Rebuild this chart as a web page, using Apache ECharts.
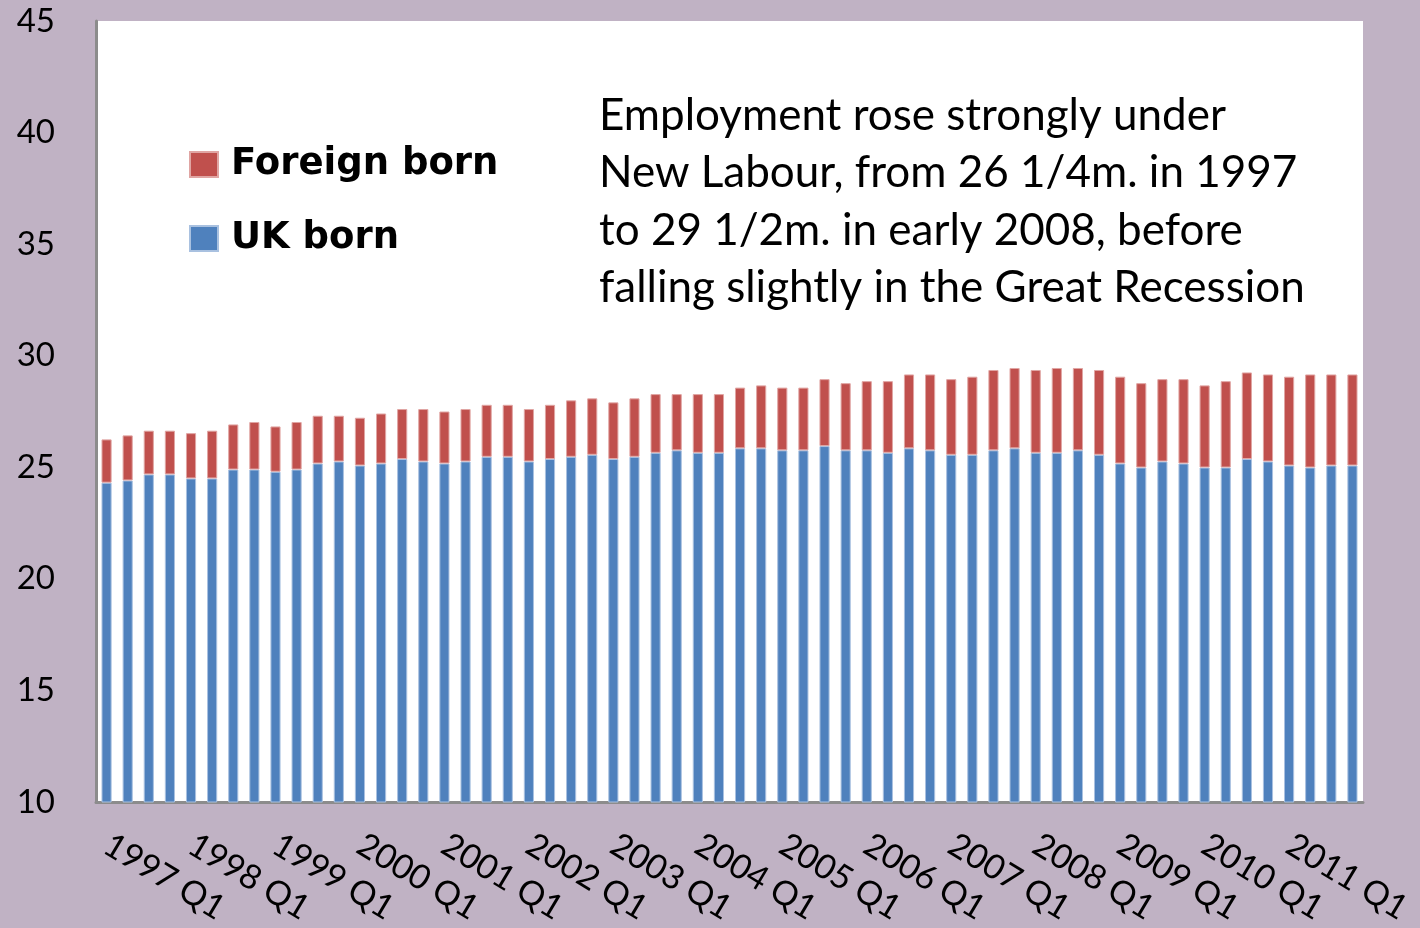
<!DOCTYPE html>
<html>
<head>
<meta charset="utf-8">
<script src="https://cdn.jsdelivr.net/npm/echarts@6/dist/echarts.min.js"></script>
<style>
  html, body { margin: 0; padding: 0; background: #c0b2c4; }
  #chart { width: 1420px; height: 928px; }
</style>
</head>
<body>
<div id="chart"></div>
<script>
// quarters 1997 Q1 .. 2011 Q4
const years = ['1997', '1998', '1999', '2000', '2001', '2002', '2003', '2004',
  '2005', '2006', '2007', '2008', '2009', '2010', '2011'];
const quarters = ['Q1', 'Q2', 'Q3', 'Q4'];

// employment, millions
const ukBorn = [
  24.31, 24.41, 24.68, 24.68, 24.50, 24.50, 24.90, 24.90, 24.80, 24.90,
  25.17, 25.26, 25.08, 25.17, 25.37, 25.26, 25.17, 25.26, 25.47, 25.47,
  25.26, 25.37, 25.47, 25.56, 25.37, 25.47, 25.65, 25.76, 25.65, 25.65,
  25.85, 25.85, 25.76, 25.76, 25.95, 25.76, 25.76, 25.65, 25.85, 25.76,
  25.56, 25.56, 25.76, 25.85, 25.65, 25.65, 25.76, 25.56, 25.17, 24.99,
  25.26, 25.17, 24.99, 24.99, 25.37, 25.26, 25.08, 24.99, 25.08, 25.08,
];
const totalEmployed = [
  26.25, 26.43, 26.64, 26.64, 26.53, 26.64, 26.92, 27.03, 26.83, 27.03,
  27.31, 27.31, 27.22, 27.41, 27.61, 27.61, 27.50, 27.61, 27.80, 27.80,
  27.61, 27.80, 28.00, 28.09, 27.91, 28.09, 28.28, 28.28, 28.28, 28.28,
  28.57, 28.67, 28.57, 28.57, 28.95, 28.77, 28.86, 28.86, 29.16, 29.16,
  28.95, 29.06, 29.36, 29.45, 29.36, 29.45, 29.45, 29.36, 29.06, 28.77,
  28.95, 28.95, 28.67, 28.86, 29.25, 29.16, 29.06, 29.16, 29.16, 29.16,
];
const yTicks = [10, 15, 20, 25, 30, 35, 40, 45];

const categories = [];
years.forEach(y => quarters.forEach(q => categories.push(y + ' ' + q)));
const foreignBorn = totalEmployed.map((t, i) => +(t - ukBorn[i]).toFixed(2));

const chart = echarts.init(document.getElementById('chart'));
chart.setOption({
  backgroundColor: '#c0b2c4',
  animation: false,
  title: {
    text: 'Employment rose strongly under\nNew Labour, from 26 1/4m. in 1997\nto 29 1/2m. in early 2008, before\nfalling slightly in the Great Recession',
    left: 599,
    top: 87,
    padding: 0,
    textStyle: {
      fontFamily: 'Lato',
      fontWeight: 'normal',
      fontSize: 44,
      lineHeight: 57.5,
      color: '#000',
    },
  },
  legend: {
    orient: 'vertical',
    left: 184,
    top: 141,
    icon: 'rect',
    itemWidth: 28,
    itemHeight: 25,
    itemGap: 37,
    data: ['Foreign born', 'UK born'],
    textStyle: {
      fontFamily: 'DejaVu Sans',
      fontWeight: 'bold',
      fontSize: 37,
      color: '#000',
      padding: [0, 0, 0, 8],
    },
  },
  grid: {
    left: 96,
    right: 57,
    top: 21,
    bottom: 126,
    show: true,
    backgroundColor: '#fff',
    borderWidth: 0,
  },
  xAxis: {
    type: 'category',
    data: categories,
    axisLine: { lineStyle: { color: '#8c8c8c', width: 3 } },
    axisTick: { show: false },
    axisLabel: {
      interval: 3,
      rotate: -31,
      margin: 40,
      fontFamily: 'Lato',
      fontSize: 34,
      color: '#000',
    },
  },
  yAxis: {
    type: 'value',
    min: yTicks[0],
    max: yTicks[yTicks.length - 1],
    interval: 5,
    axisLine: { show: true, lineStyle: { color: '#8c8c8c', width: 3 } },
    axisTick: { show: false },
    splitLine: { show: false },
    axisLabel: {
      margin: 41,
      fontFamily: 'Lato',
      fontSize: 33,
      color: '#000',
    },
  },
  series: [
    {
      name: 'UK born',
      type: 'bar',
      stack: 'emp',
      barWidth: '48%',
      data: ukBorn,
      itemStyle: { color: '#4f81bd', borderColor: '#a9c1e0', borderWidth: 1 },
    },
    {
      name: 'Foreign born',
      type: 'bar',
      stack: 'emp',
      data: foreignBorn,
      itemStyle: { color: '#c0504d', borderColor: '#e0a5a3', borderWidth: 1 },
    },
  ],
});
</script>
</body>
</html>
